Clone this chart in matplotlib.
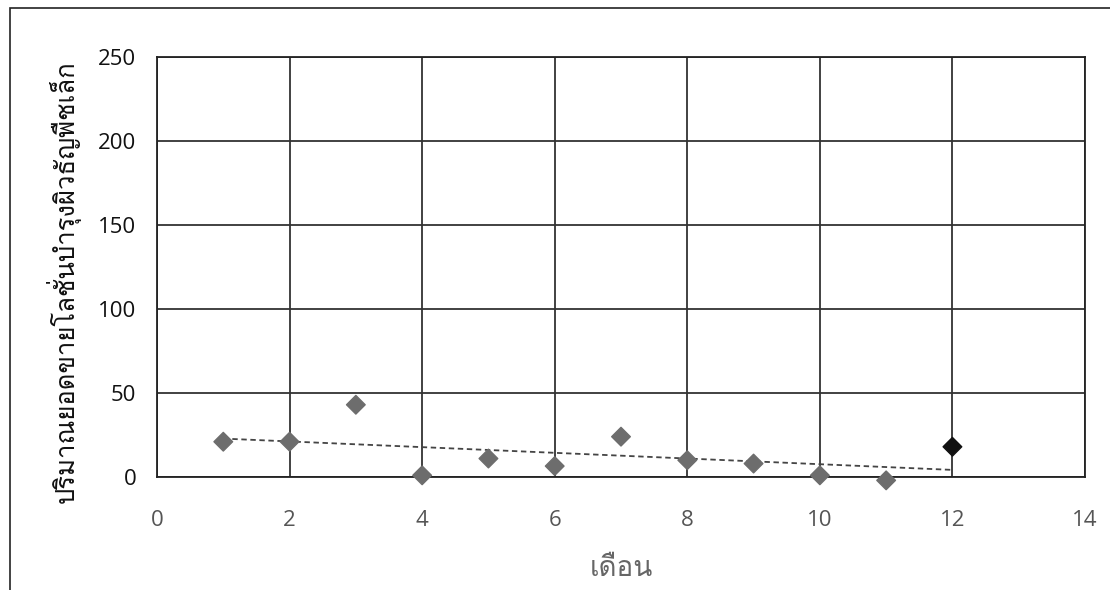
import numpy as np
import matplotlib
matplotlib.use("Agg")
import matplotlib.pyplot as plt
from matplotlib import font_manager
from matplotlib.patches import Rectangle

# ---- data ----
months = [1, 2, 3, 4, 5, 6, 7, 8, 9, 10, 11, 12]
sales = [21, 21, 43, 1, 11, 6.5, 24, 10, 8, 1, -2, 18]
x_ticks = [0, 2, 4, 6, 8, 10, 12, 14]
y_ticks = [0, 50, 100, 150, 200, 250]
y_label = "ปริมาณยอดขายโลชั่นบำรุงผิวธัญพืชเล็ก"
x_label = "เดือน"

# find a font that has Thai glyphs
thai_font = None
try:
    from fontTools.ttLib import TTFont
    for fe in font_manager.fontManager.ttflist:
        try:
            f = TTFont(fe.fname, fontNumber=0, lazy=True)
            cmap = f.getBestCmap()
            if cmap and 0x0E01 in cmap and 0x0E40 in cmap:
                thai_font = fe.name
                break
        except Exception:
            pass
except Exception:
    pass
fams = ([thai_font] if thai_font else []) + ["DejaVu Sans"]

plt.rcParams["font.family"] = ["Open Sans", "DejaVu Sans"]

fig = plt.figure(figsize=(11.1, 5.9), dpi=100)
ax = fig.add_axes([157 / 1110, 1 - 477 / 590, (1085 - 157) / 1110, (477 - 57) / 590])

# outer frame (scanned chart border)
fig.patches.append(Rectangle((10 / 1110, -0.1), 1.2, 1 - 8 / 590 + 0.1,
                             transform=fig.transFigure, fill=False,
                             edgecolor="#222222", linewidth=1.2))

ax.set_xlim(0, 14)
ax.set_ylim(0, 250)
ax.set_xticks(x_ticks)
ax.set_yticks(y_ticks)
ax.grid(True, color="#333333", linewidth=1.3)
ax.set_axisbelow(True)
for s in ax.spines.values():
    s.set_color("#222222")
    s.set_linewidth(1.3)
ax.tick_params(length=0)
ax.tick_params(axis="y", labelsize=16, pad=15, labelcolor="#111111")
ax.tick_params(axis="x", labelsize=16, pad=24, labelcolor="#555555")

# trendline (linear fit)
coef = np.polyfit(months, sales, 1)
xs = np.array([months[0], months[-1]])
ax.plot(xs, np.polyval(coef, xs), linestyle=(0, (3, 2)), color="#444444",
        linewidth=1.3, zorder=3)

colors = ["#6d6d6d"] * (len(months) - 1) + ["#111111"]
ax.scatter(months, sales, marker="D", s=90, c=colors, zorder=4, clip_on=False)

ax.set_ylabel(y_label, family=fams, fontsize=18.5, labelpad=12, color="#111111")
ax.yaxis.label.set_y(0.465)
ax.set_xlabel(x_label, family=fams, fontsize=20, labelpad=18, color="#666666")

fig.savefig("out.png", dpi=100)
